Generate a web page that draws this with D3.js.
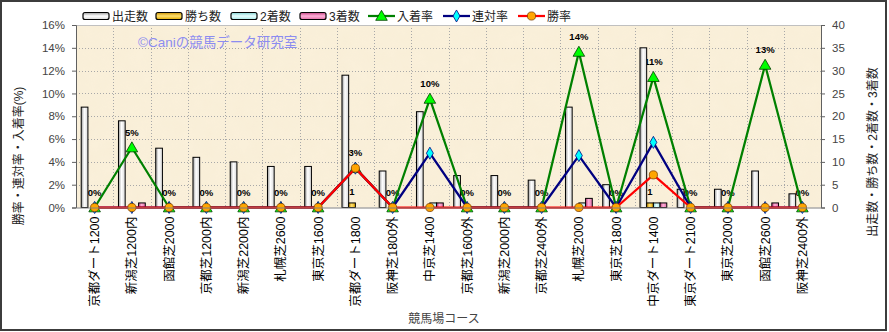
<!DOCTYPE html>
<html>
<head>
<meta charset="utf-8">
<script src="https://cdn.jsdelivr.net/npm/d3@7"></script>
<style>
  body { margin: 0; background: #fff; }
  svg { display: block; }
  text { font-family: "Liberation Sans", "Noto Sans CJK JP", sans-serif; }
</style>
</head>
<body>
<svg id="chart" width="889" height="332"></svg>
<script>
// Courses (x categories)
const courses = [
  "京都ダート1200", "新潟芝1200内", "函館芝2000", "京都芝1200内", "新潟芝2200内",
  "札幌芝2600", "東京芝1600", "京都ダート1800", "阪神芝1800外", "中京芝1400",
  "京都芝1600外", "新潟芝2000内", "京都芝2400外", "札幌芝2000", "東京芝1800",
  "中京ダート1400", "東京ダート2100", "東京芝2000", "函館芝2600", "阪神芝2400外"
];
// Counts (right axis)
const starts  = [22, 19, 13, 11, 10, 9, 9, 29, 8, 21, 7, 7, 6, 22, 5, 35, 4, 4, 8, 3];
const wins    = [0, 0, 0, 0, 0, 0, 0, 1, 0, 0, 0, 0, 0, 0, 0, 1, 0, 0, 0, 0];
const seconds = [0, 0, 0, 0, 0, 0, 0, 0, 0, 1, 0, 0, 0, 1, 0, 1, 0, 0, 0, 0];
const thirds  = [0, 1, 0, 0, 0, 0, 0, 0, 0, 1, 0, 0, 0, 2, 0, 1, 0, 0, 1, 0];
// Rates in % (left axis)
const placeRate    = [0, 5.26, 0, 0, 0, 0, 0, 3.45, 0, 9.52, 0, 0, 0, 13.64, 0, 11.43, 0, 0, 12.5, 0];
const quinellaRate = [0, 0, 0, 0, 0, 0, 0, 3.45, 0, 4.76, 0, 0, 0, 4.55, 0, 5.71, 0, 0, 0, 0];
const winRate      = [0, 0, 0, 0, 0, 0, 0, 3.45, 0, 0, 0, 0, 0, 0, 0, 2.86, 0, 0, 0, 0];
// Axis ticks
const rateTicks  = [0, 2, 4, 6, 8, 10, 12, 14, 16];
const countTicks = [0, 5, 10, 15, 20, 25, 30, 35, 40];

const svg = d3.select("#chart");
const L = 76, R = 821, T = 25, B = 207.5;

const x = d3.scaleBand().domain(courses).range([L, R]).paddingInner(0).paddingOuter(0);
const bw = x.bandwidth();
const barKeys = ["starts", "wins", "seconds", "thirds"];
const xs = d3.scaleBand().domain(barKeys).range([bw * 0.14, bw * 0.86]);
const yL = d3.scaleLinear().domain([0, 16]).range([B, T]);
const yR = d3.scaleLinear().domain([0, 40]).range([B, T]);
const cx = c => x(c) + bw / 2;

// gradients
const defs = svg.append("defs");
function hGrad(id, stops) {
  const g = defs.append("linearGradient").attr("id", id).attr("x1", "0").attr("x2", "1").attr("y1", "0").attr("y2", "0");
  stops.forEach(([o, c]) => g.append("stop").attr("offset", o).attr("stop-color", c));
}
function vGrad(id, stops) {
  const g = defs.append("linearGradient").attr("id", id).attr("x1", "0").attr("x2", "0").attr("y1", "0").attr("y2", "1");
  stops.forEach(([o, c]) => g.append("stop").attr("offset", o).attr("stop-color", c));
}
const barColors = {
  starts:  ["#9a9a9a", "#ffffff", "#d8d8d8"],
  wins:    ["#c89000", "#ffe070", "#e0a800"],
  seconds: ["#80d0d0", "#e8ffff", "#a8e8e8"],
  thirds:  ["#c04080", "#ffb0d8", "#e070a8"]
};
barKeys.forEach(k => {
  const [a, b, c] = barColors[k];
  hGrad("bar-" + k, [["0", a], ["0.45", b], ["1", c]]);
  vGrad("leg-" + k, [["0", a], ["0.5", b], ["1", c]]);
});

// paper texture for the plot area
const tex = defs.append("filter").attr("id", "paper").attr("x", 0).attr("y", 0).attr("width", 1).attr("height", 1);
tex.append("feTurbulence").attr("type", "fractalNoise").attr("baseFrequency", "0.06").attr("numOctaves", 3).attr("seed", 4).attr("result", "n");
tex.append("feColorMatrix").attr("in", "n").attr("type", "matrix")
  .attr("values", "0 0 0 0 0.85  0 0 0 0 0.75  0 0 0 0 0.55  0 0 0 0.35 -0.08");

// outer frame
svg.append("rect").attr("x", 1).attr("y", 1).attr("width", 885).attr("height", 329)
  .attr("fill", "#fff").attr("stroke", "#3c3c3c").attr("stroke-width", 2);

// plot background
svg.append("rect").attr("x", L).attr("y", T).attr("width", R - L).attr("height", B - T).attr("fill", "#faf0da");
svg.append("rect").attr("x", L).attr("y", T).attr("width", R - L).attr("height", B - T).attr("filter", "url(#paper)").attr("opacity", 0.5);

// grid
const grid = svg.append("g").attr("stroke", "#a8a8a8").attr("stroke-dasharray", "1,2").attr("stroke-width", 1);
grid.selectAll("line.h").data(rateTicks.slice(1, -1)).join("line")
  .attr("x1", L).attr("x2", R).attr("y1", d => Math.round(yL(d)) + 0.5).attr("y2", d => Math.round(yL(d)) + 0.5);
grid.selectAll("line.v").data(courses.slice(1)).join("line")
  .attr("x1", d => Math.round(x(d)) + 0.5).attr("x2", d => Math.round(x(d)) + 0.5).attr("y1", T).attr("y2", B);
svg.append("line").attr("x1", L).attr("x2", R).attr("y1", T + 0.5).attr("y2", T + 0.5).attr("stroke", "#c0c0c0");

// place-rate labels (sit beneath the bars)
svg.append("g").selectAll("text").data(courses).join("text")
  .attr("x", d => cx(d)).attr("y", (d, i) => yL(placeRate[i]) - 12)
  .attr("text-anchor", "middle").attr("font-size", 9.5).attr("font-weight", "bold").attr("fill", "#000")
  .text((d, i) => Math.round(placeRate[i]) + "%");

// bars
const barData = { starts, wins, seconds, thirds };
const bars = svg.append("g");
barKeys.forEach(k => {
  bars.selectAll("rect." + k).data(courses.map((c, i) => ({ c, v: barData[k][i] })).filter(d => d.v > 0)).join("rect")
    .attr("x", d => x(d.c) + xs(k)).attr("width", xs.bandwidth())
    .attr("y", d => yR(d.v)).attr("height", d => B - yR(d.v))
    .attr("fill", "url(#bar-" + k + ")").attr("stroke", "#000").attr("stroke-width", 1);
});

// win count labels
svg.append("g").selectAll("text").data(courses.map((c, i) => ({ c, v: wins[i] })).filter(d => d.v > 0)).join("text")
  .attr("x", d => x(d.c) + xs("wins") + xs.bandwidth() / 2).attr("y", d => yR(d.v) - 8)
  .attr("text-anchor", "middle").attr("font-size", 9.5).attr("font-weight", "bold").text(d => d.v);

// rate lines
const rateSeries = [
  { name: "入着率", values: placeRate, line: "#008000", fill: "#00ff00", edge: "#004000", sym: d3.symbolTriangle, size: 58 },
  { name: "連対率", values: quinellaRate, line: "#000080", fill: "#00ffff", edge: "#000080", sym: d3.symbolDiamond, size: 42 },
  { name: "勝率", values: winRate, line: "#ff0000", fill: "#ffa500", edge: "#804000", sym: d3.symbolCircle, size: 52 }
];
const lineGen = d3.line().x(d => cx(d.c)).y(d => yL(d.v));
rateSeries.forEach(s => {
  const pts = courses.map((c, i) => ({ c, v: s.values[i] }));
  svg.append("path").datum(pts).attr("d", lineGen).attr("fill", "none")
    .attr("stroke", s.line).attr("stroke-width", 2.25).attr("stroke-linejoin", "round");
  svg.append("g").selectAll("path").data(pts).join("path")
    .attr("transform", d => `translate(${cx(d.c)},${yL(d.v) + (s.sym === d3.symbolTriangle ? 1 : 0)})`)
    .attr("d", d3.symbol().type(s.sym).size(s.size))
    .attr("fill", s.fill).attr("stroke", s.edge).attr("stroke-width", 0.8);
});

// axes
const axL = svg.append("g").attr("transform", `translate(${L},0)`)
  .call(d3.axisLeft(yL).tickValues(rateTicks).tickFormat(d => d + "%").tickSize(4).tickPadding(7));
const axR = svg.append("g").attr("transform", `translate(${R},0)`)
  .call(d3.axisRight(yR).tickValues(countTicks).tickSize(4).tickPadding(7));
[axL, axR].forEach(a => {
  a.select(".domain").attr("stroke", "#606060");
  a.selectAll(".tick line").attr("stroke", "#606060");
  a.selectAll(".tick text").attr("font-size", 11.5).attr("fill", "#444")
    .attr("font-family", "'Liberation Sans', sans-serif");
});
const axB = svg.append("g").attr("transform", `translate(0,${B})`)
  .call(d3.axisBottom(x).tickSize(0).tickPadding(0));
axB.select(".domain").attr("stroke", "#808080");
axB.selectAll(".tick text")
  .attr("transform", "rotate(-90)").attr("text-anchor", "end")
  .attr("x", -9).attr("y", 0).attr("dy", "0.35em").attr("dx", 0)
  .attr("font-size", 12.5).attr("fill", "#000")
  .attr("font-family", "'Liberation Sans', 'Noto Sans CJK JP', sans-serif");

// axis titles
svg.append("text").attr("transform", "translate(23,156) rotate(-90)").attr("text-anchor", "middle")
  .attr("font-size", 12).attr("fill", "#222").text("勝率・連対率・入着率(%)");
svg.append("text").attr("transform", "translate(877,152) rotate(-90)").attr("text-anchor", "middle")
  .attr("font-size", 12).attr("fill", "#222").text("出走数・勝ち数・2着数・3着数");
svg.append("text").attr("x", 444).attr("y", 323).attr("text-anchor", "middle")
  .attr("font-size", 12).attr("fill", "#444").text("競馬場コース");

// watermark
svg.append("text").attr("x", 138).attr("y", 47).attr("font-size", 13.5).attr("fill", "#8c8cf0")
  .text("©Caniの競馬データ研究室");

// legend
const legBars = [
  { k: "starts", name: "出走数", x: 83 },
  { k: "wins", name: "勝ち数", x: 156 },
  { k: "seconds", name: "2着数", x: 231 },
  { k: "thirds", name: "3着数", x: 300 }
];
const leg = svg.append("g");
legBars.forEach(d => {
  leg.append("rect").attr("x", d.x).attr("y", 12.5).attr("width", 26).attr("height", 7).attr("rx", 2)
    .attr("fill", "url(#leg-" + d.k + ")").attr("stroke", "#000").attr("stroke-width", 1.2);
  leg.append("text").attr("x", d.x + 29).attr("y", 20.5).attr("font-size", 12).attr("fill", "#222").text(d.name);
});
const legLines = [368, 443, 518];
rateSeries.forEach((s, i) => {
  const x0 = legLines[i];
  leg.append("line").attr("x1", x0).attr("x2", x0 + 27).attr("y1", 16).attr("y2", 16)
    .attr("stroke", s.line).attr("stroke-width", 2.25);
  leg.append("path").attr("transform", `translate(${x0 + 13.5},${16 + (s.sym === d3.symbolTriangle ? 1 : 0)})`)
    .attr("d", d3.symbol().type(s.sym).size(s.size))
    .attr("fill", s.fill).attr("stroke", s.edge).attr("stroke-width", 0.8);
  leg.append("text").attr("x", x0 + 29).attr("y", 20.5).attr("font-size", 12).attr("fill", "#222").text(s.name);
});
</script>
</body>
</html>
